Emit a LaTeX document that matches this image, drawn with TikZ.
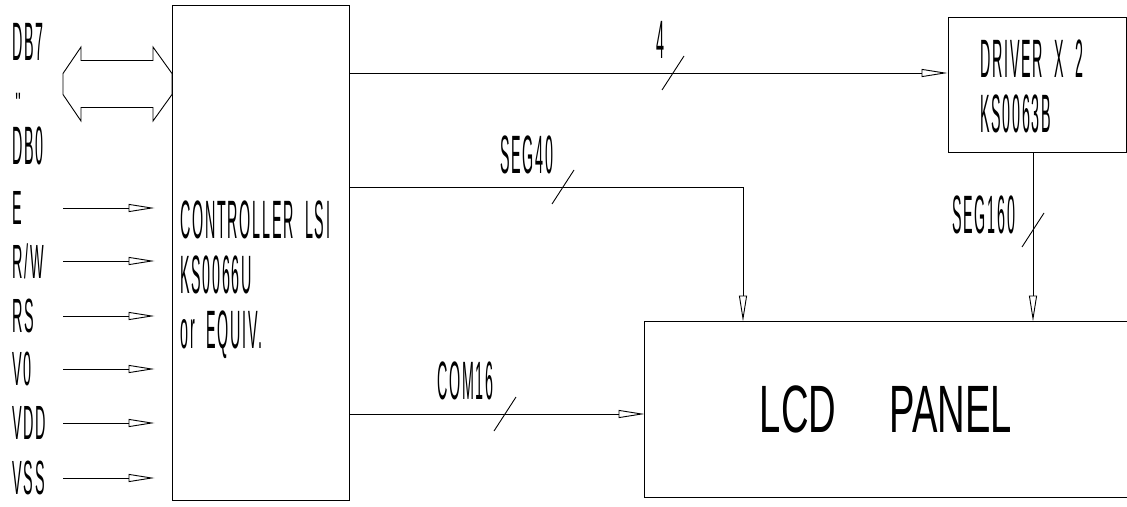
\documentclass[tikz,border=0pt]{standalone}
\usepackage{fontspec}
\usepackage{graphicx}
\usetikzlibrary{arrows.meta,positioning}
\newfontfamily\cadfamily{Liberation Sans}[LetterSpace=12, WordSpace=2]
\newcommand\cadsx{0.265}
\newcommand\cad[1]{\scalebox{\cadsx}[1]{#1}}
\newcommand\busmark[1]{\draw ([shift={(-11,17)}]#1) -- ([shift={(11,-17)}]#1);}

\begin{document}
\begin{tikzpicture}[
    x=1pt, y=-1pt,
    line width=0.9pt,
    box/.style={rectangle, draw, inner sep=0pt},
    cadtext/.style={inner sep=0pt, align=left, font=\cadfamily\fontsize{54}{55}\selectfont},
    pintext/.style={cadtext, font=\cadfamily\fontsize{48}{50}\selectfont\renewcommand\cadsx{0.3}},
    sigarrow/.style={-{Triangle[open, length=26pt, width=8pt]}}
]
\useasboundingbox (0,0) rectangle (1127,506);

% Blocks
\node[box, minimum width=177pt, minimum height=495pt] (ctrl) at (260.5,252.5) {};
\node[box, minimum width=178pt, minimum height=135pt] (drv) at (1037,84.5) {};
\node[inner sep=0pt, minimum width=482pt, minimum height=175pt,
      font=\fontspec{Liberation Sans}\fontsize{67}{70}\selectfont] (lcd) at (886,409.5)
      {\scalebox{0.57}[1]{LCD\hspace{1.4em}PANEL}};
\draw (lcd.north east) -- (lcd.north west) -- (lcd.south west) -- (lcd.south east);

% Block texts
\node[cadtext, anchor=north west] (ctrltxt) at (180,200)
    {\cad{CONTROLLER LSI}\\\cad{KS0066U}\\\cad{or EQUIV.}};
\node[cadtext, anchor=north west] (drvtxt) at (980,39)
    {\cad{DRIVER X 2}\\\cad{KS0063B}};

% Data bus
\node[cadtext, anchor=west] (db7) at (12,42) {\cad{DB7}};
\node[cadtext, anchor=base west, font=\cadfamily\fontsize{28}{30}\selectfont] (ditto) at (15,112)
    {\scalebox{0.55}[1]{"}};
\node[cadtext, anchor=west] (db0) at (12,146) {\cad{DB0}};
\coordinate (busL) at (63,84);
\draw (busL) ++(0,-10.5) -- ++(18,-26.5) -- ++(0,13.5) -- ++(72,0) -- ++(0,-13.5)
    -- ++(19,26.5) -- ++(0,21) -- ++(-19,26.5) -- ++(0,-13.5) -- ++(-72,0)
    -- ++(0,13.5) -- ++(-18,-26.5) -- cycle;

% Control inputs
\foreach \lbl/\y [count=\i] in {E/208, {R/W}/261, RS/316, V0/369, VDD/423, VSS/478} {
    \node[pintext, anchor=west] (in\i) at (12,\y) {\cad{\lbl}};
    \coordinate (a\i) at (63,\y);
    \draw[sigarrow, shorten >=17pt] (a\i) -- (ctrl.west |- a\i);
}

% Controller to driver
\coordinate (y4) at (0,73);
\draw[sigarrow] (ctrl.east |- y4) -- (drv.west |- y4);
\node[cadtext, anchor=base] (l4) at (660,58) {\cad{4}};
\coordinate (m4) at (673,73);
\busmark{m4}

% Controller to panel, segments
\coordinate (y40) at (0,187);
\coordinate (x40) at (743,0);
\draw[sigarrow] (ctrl.east |- y40) -| (lcd.north -| x40);
\node[cadtext, anchor=base west] (l40) at (500,173) {\cad{SEG40}};
\coordinate (m40) at (563,187);
\busmark{m40}

% Driver to panel
\coordinate (x160) at (1033,0);
\draw[sigarrow] (drv.south -| x160) -- (lcd.north -| x160);
\node[cadtext, anchor=base west] (l160) at (952,233) {\cad{SEG160}};
\coordinate (m160) at (1033,230);
\busmark{m160}

% Controller to panel, commons
\coordinate (y16) at (0,414);
\draw[sigarrow] (ctrl.east |- y16) -- (lcd.west |- y16);
\node[cadtext, anchor=base west] (l16) at (437,399) {\cad{COM16}};
\coordinate (m16) at (505,414);
\busmark{m16}

\end{tikzpicture}
\end{document}
